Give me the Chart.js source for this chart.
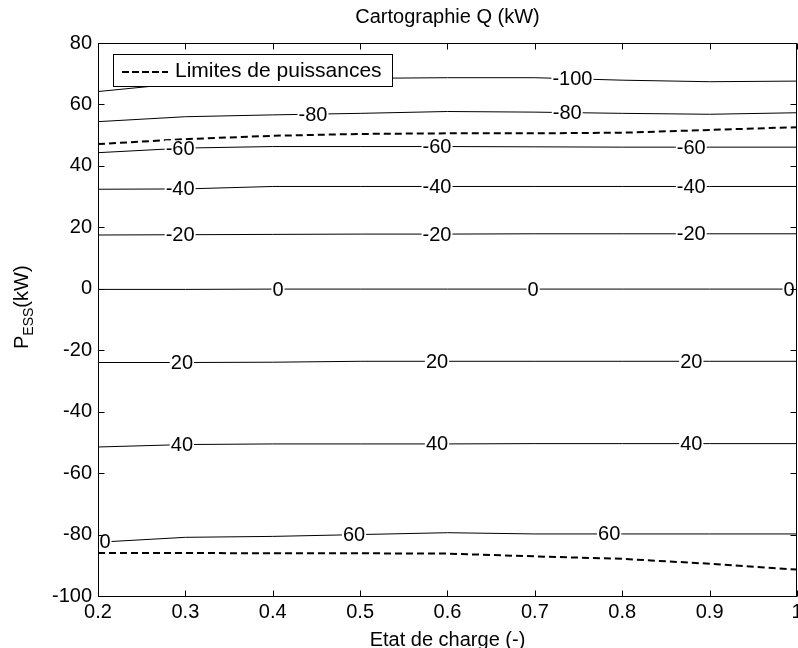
<!DOCTYPE html>
<html>
<head>
<meta charset="utf-8">
<script src="https://cdn.jsdelivr.net/npm/chart.js@4.4.1/dist/chart.umd.min.js"></script>
<style>
  html, body { margin: 0; padding: 0; background: #fff; }
</style>
</head>
<body>
<canvas id="qMap" width="798" height="648"></canvas>
<script>
// state of charge grid (x axis)
const soc = [0.2, 0.3, 0.4, 0.5, 0.6, 0.7, 0.8, 0.9, 1.0];

// P_ESS (kW) of each Q contour, read at every soc value
const qLevels = ['-100', '-80', '-60', '-40', '-20', '0', '20', '40', '60'];
const qMinus100 = [64.2, 67.0, 68.0, 68.5, 68.7, 68.7, 67.9, 67.4, 67.6];
const qMinus80 = [54.4, 56.0, 56.6, 57.1, 57.7, 57.5, 57.1, 56.8, 57.3];
const qMinus60 = [44.3, 45.8, 46.3, 46.3, 46.3, 46.2, 46.1, 46.1, 46.1];
const qMinus40 = [32.4, 32.5, 33.3, 33.3, 33.3, 33.3, 33.3, 33.3, 33.3];
const qMinus20 = [17.5, 17.6, 17.7, 17.8, 17.8, 17.9, 17.9, 17.9, 17.9];
const qZero = [-0.2, -0.2, -0.1, -0.1, -0.1, -0.1, -0.1, -0.1, -0.1];
const qPlus20 = [-24.0, -24.0, -23.9, -23.6, -23.6, -23.6, -23.6, -23.6, -23.6];
const qPlus40 = [-51.5, -50.7, -50.5, -50.5, -50.5, -50.4, -50.4, -50.4, -50.4];
const qPlus60 = [-82.5, -80.9, -80.6, -80.0, -79.4, -79.8, -79.8, -79.8, -79.8];
const contours = [qMinus100, qMinus80, qMinus60, qMinus40, qMinus20, qZero, qPlus20, qPlus40, qPlus60];

// power limits (dashed)
const limitHigh = [47.1, 48.7, 49.8, 50.4, 50.6, 50.6, 50.8, 51.7, 52.6];
const limitLow = [-86.0, -86.0, -86.1, -86.1, -86.2, -87.1, -87.9, -89.5, -91.4];

// contour labels: text, soc position, index of contour
const labelText = ['-100', '-100', '-80', '-80', '-60', '-60', '-60', '-40', '-40', '-40',
                   '-20', '-20', '-20', '0', '0', '0', '20', '20', '20', '40', '40', '40', '60', '60', '0'];
const labelSoc = [0.465, 0.743, 0.446, 0.737, 0.294, 0.588, 0.879, 0.294, 0.588, 0.879,
                  0.294, 0.588, 0.879, 0.406, 0.698, 0.991, 0.296, 0.588, 0.879, 0.296, 0.588, 0.879, 0.493, 0.785, 0.208];
const labelContour = [0, 0, 1, 1, 2, 2, 2, 3, 3, 3, 4, 4, 4, 5, 5, 5, 6, 6, 6, 7, 7, 7, 8, 8, 8];

const xTicks = [0.2, 0.3, 0.4, 0.5, 0.6, 0.7, 0.8, 0.9, 1.0];
const yTicks = [-100, -80, -60, -40, -20, 0, 20, 40, 60, 80];

const FONT = '"Liberation Sans", Arial, sans-serif';

function toPoints(vals) {
    return soc.map(function(s, i) { return { x: s, y: vals[i] }; });
}

function valueAt(vals, s) {
    for (let i = 0; i < soc.length - 1; i++) {
        if (s <= soc[i + 1]) {
            const t = (s - soc[i]) / (soc[i + 1] - soc[i]);
            return vals[i] + t * (vals[i + 1] - vals[i]);
        }
    }
    return vals[vals.length - 1];
}

const datasets = contours.map(function(vals, i) {
    return {
        label: 'Q = ' + qLevels[i],
        data: toPoints(vals),
        borderColor: '#000',
        borderWidth: 1,
        pointRadius: 0,
        tension: 0,
        fill: false
    };
});
[limitHigh, limitLow].forEach(function(vals) {
    datasets.push({
        label: 'Limites de puissances',
        data: toPoints(vals),
        borderColor: '#000',
        borderWidth: 2,
        borderDash: [7, 4],
        pointRadius: 0,
        tension: 0,
        fill: false
    });
});

// MATLAB look: contour labels, boxed axes with inner ticks, legend, titles
const matlabFrame = {
    id: 'matlabFrame',
    afterDatasetsDraw(chart) {
        const ctx = chart.ctx;
        const a = chart.chartArea;
        const xs = chart.scales.x;
        const ys = chart.scales.y;
        ctx.save();

        // contour labels with a white gap in the line
        ctx.font = '20px ' + FONT;
        ctx.textAlign = 'center';
        ctx.textBaseline = 'middle';
        labelText.forEach(function(txt, i) {
            const px = xs.getPixelForValue(labelSoc[i]);
            const py = ys.getPixelForValue(valueAt(contours[labelContour[i]], labelSoc[i]));
            const w = ctx.measureText(txt).width;
            ctx.fillStyle = '#fff';
            ctx.fillRect(px - w / 2 - 1, py - 8, w + 2, 16);
            ctx.fillStyle = '#000';
            ctx.fillText(txt, px, py + 1);
        });

        // box
        const L = Math.round(a.left) + 0.5, R = Math.round(a.right) - 0.5;
        const T = Math.round(a.top) + 0.5, B = Math.round(a.bottom) + 0.5;
        ctx.strokeStyle = '#000';
        ctx.lineWidth = 1;
        ctx.strokeRect(L, T, R - L, B - T);

        // inner ticks on all four sides
        const tl = 6;
        ctx.beginPath();
        xTicks.forEach(function(v) {
            const px = Math.round(xs.getPixelForValue(v)) + 0.5;
            ctx.moveTo(px, B); ctx.lineTo(px, B - tl);
            ctx.moveTo(px, T); ctx.lineTo(px, T + tl);
        });
        yTicks.forEach(function(v) {
            const py = Math.round(ys.getPixelForValue(v)) + 0.5;
            ctx.moveTo(L, py); ctx.lineTo(L + tl, py);
            ctx.moveTo(R, py); ctx.lineTo(R - tl, py);
        });
        ctx.stroke();

        // legend
        const lx = 113, ly = 54, lw = 279, lh = 32;
        ctx.fillStyle = '#fff';
        ctx.fillRect(lx, ly, lw, lh);
        ctx.strokeRect(lx + 0.5, ly + 0.5, lw, lh);
        ctx.beginPath();
        ctx.lineWidth = 2;
        ctx.setLineDash([7, 3]);
        ctx.moveTo(122, 72); ctx.lineTo(168, 72);
        ctx.stroke();
        ctx.setLineDash([]);
        ctx.fillStyle = '#000';
        ctx.textAlign = 'left';
        ctx.font = '21px ' + FONT;
        ctx.fillText('Limites de puissances', 175, 71);

        // title
        ctx.font = '20px ' + FONT;
        ctx.textAlign = 'center';
        ctx.textBaseline = 'alphabetic';
        ctx.fillText('Cartographie Q (kW)', (a.left + a.right) / 2, 23);

        // x label
        ctx.fillText('Etat de charge (-)', (a.left + a.right) / 2, 646);

        // y label P_ESS(kW), rotated
        ctx.translate(28, 349);
        ctx.rotate(-Math.PI / 2);
        ctx.textAlign = 'left';
        ctx.font = '20px ' + FONT;
        ctx.fillText('P', 0, 0);
        let off = ctx.measureText('P').width;
        ctx.font = '14px ' + FONT;
        ctx.fillText('ESS', off, 5);
        off += ctx.measureText('ESS').width;
        ctx.font = '20px ' + FONT;
        ctx.fillText('(kW)', off, 0);

        ctx.restore();
    }
};

const ctx = document.getElementById('qMap').getContext('2d');
new Chart(ctx, {
    type: 'line',
    data: { datasets: datasets },
    options: {
        responsive: false,
        animation: false,
        devicePixelRatio: 1,
        layout: { padding: { top: 43, right: 1, bottom: 0, left: 0 } },
        plugins: {
            legend: { display: false },
            title: { display: false },
            tooltip: { enabled: false }
        },
        scales: {
            x: {
                type: 'linear',
                min: 0.2,
                max: 1,
                afterBuildTicks: function(scale) { scale.ticks = xTicks.map(function(v) { return { value: v }; }); },
                ticks: {
                    color: '#000',
                    font: { family: FONT, size: 20 },
                    padding: 4,
                    maxRotation: 0,
                    autoSkip: false,
                    callback: function(v) { return String(+(+v).toFixed(1)); }
                },
                grid: { display: false, drawTicks: false },
                border: { display: false },
                afterFit: function(scale) {
                    scale.height = 52;
                    scale.paddingLeft = 0;
                    scale.paddingRight = 0;
                }
            },
            y: {
                type: 'linear',
                min: -100,
                max: 80,
                afterBuildTicks: function(scale) { scale.ticks = yTicks.map(function(v) { return { value: v }; }); },
                ticks: {
                    color: '#000',
                    font: { family: FONT, size: 20 },
                    padding: 6,
                    autoSkip: false,
                    callback: function(v) { return String(v); }
                },
                grid: { display: false, drawTicks: false },
                border: { display: false },
                afterFit: function(scale) {
                    scale.width = 98;
                    scale.paddingTop = 0;
                    scale.paddingBottom = 0;
                }
            }
        }
    },
    plugins: [matlabFrame]
});
</script>
</body>
</html>
